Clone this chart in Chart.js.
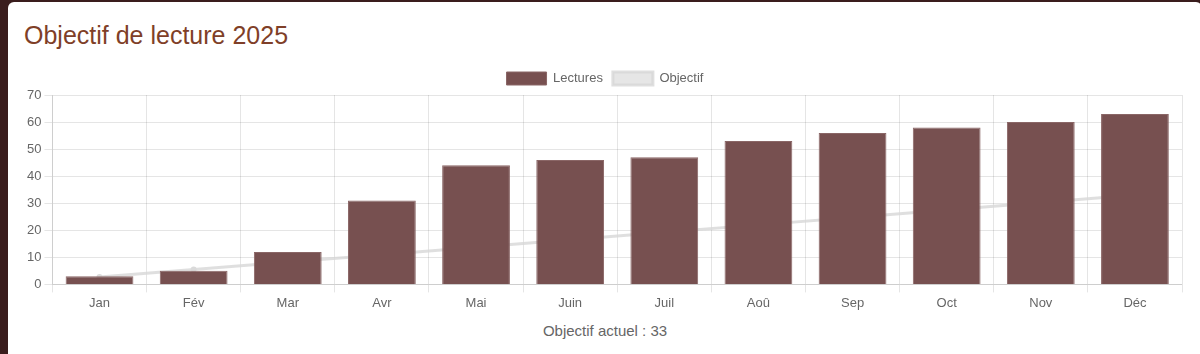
<!DOCTYPE html>
<html lang="fr">
<head>
<meta charset="utf-8">
<title>Objectif de lecture 2025</title>
<script src="https://cdn.jsdelivr.net/npm/chart.js@4.4.1/dist/chart.umd.min.js"></script>
<style>
  html, body { margin: 0; padding: 0; }
  body {
    background: #3a1d1d;
    width: 1200px;
    height: 354px;
    overflow: hidden;
    font-family: "Liberation Sans", Arial, sans-serif;
  }
  .card {
    position: absolute;
    left: 8px;
    top: 2px;
    width: 1162px;
    height: 370px;
    padding: 0 16px;
    background: #fff;
    border-radius: 6px;
  }
  h2 {
    margin: 0;
    padding-top: 19px;
    height: 41px;
    font-weight: normal;
    font-size: 25px;
    color: #7f3f28;
  }
  .chart-box { position: relative; width: 1162px; height: 252px; }
  .note {
    text-align: center;
    font-size: 15px;
    color: #666;
    margin-top: 8px;
  }
</style>
</head>
<body>
<div class="card">
  <h2>Objectif de lecture 2025</h2>
  <div class="chart-box"><canvas id="goalChart"></canvas></div>
  <div class="note">Objectif actuel : 33</div>
</div>
<script>
const months = ["Jan", "Fév", "Mar", "Avr", "Mai", "Juin", "Juil", "Aoû", "Sep", "Oct", "Nov", "Déc"];
const lectures = [3, 5, 12, 31, 44, 46, 47, 53, 56, 58, 60, 63];
const objectif = [2.75, 5.5, 8.25, 11, 13.75, 16.5, 19.25, 22, 24.75, 27.5, 30.25, 33];

const $ = (id) => document.getElementById(id);

Chart.defaults.font.size = 13;

new Chart($("goalChart"), {
  type: "bar",
  data: {
    labels: months,
    datasets: [
      {
        label: "Lectures",
        data: lectures,
        backgroundColor: "#775050",
        borderColor: "#8a6666",
        borderWidth: 1,
        order: 1,
      },
      {
        type: "line",
        label: "Objectif",
        data: objectif,
        borderColor: "rgba(215,215,215,0.8)",
        backgroundColor: "rgba(230,230,230,1)",
        borderWidth: 3,
        pointRadius: 3,
        pointBackgroundColor: "rgba(218,218,218,1)",
        pointBorderWidth: 0,
        tension: 0,
        fill: false,
        order: 2,
      },
    ],
  },
  options: {
    responsive: true,
    maintainAspectRatio: false,
    animation: false,
    plugins: {
      legend: { display: true, position: "top" },
      tooltip: { enabled: false },
    },
    scales: {
      y: { beginAtZero: true, max: 70, ticks: { stepSize: 10 } },
    },
  },
});
</script>
</body>
</html>
